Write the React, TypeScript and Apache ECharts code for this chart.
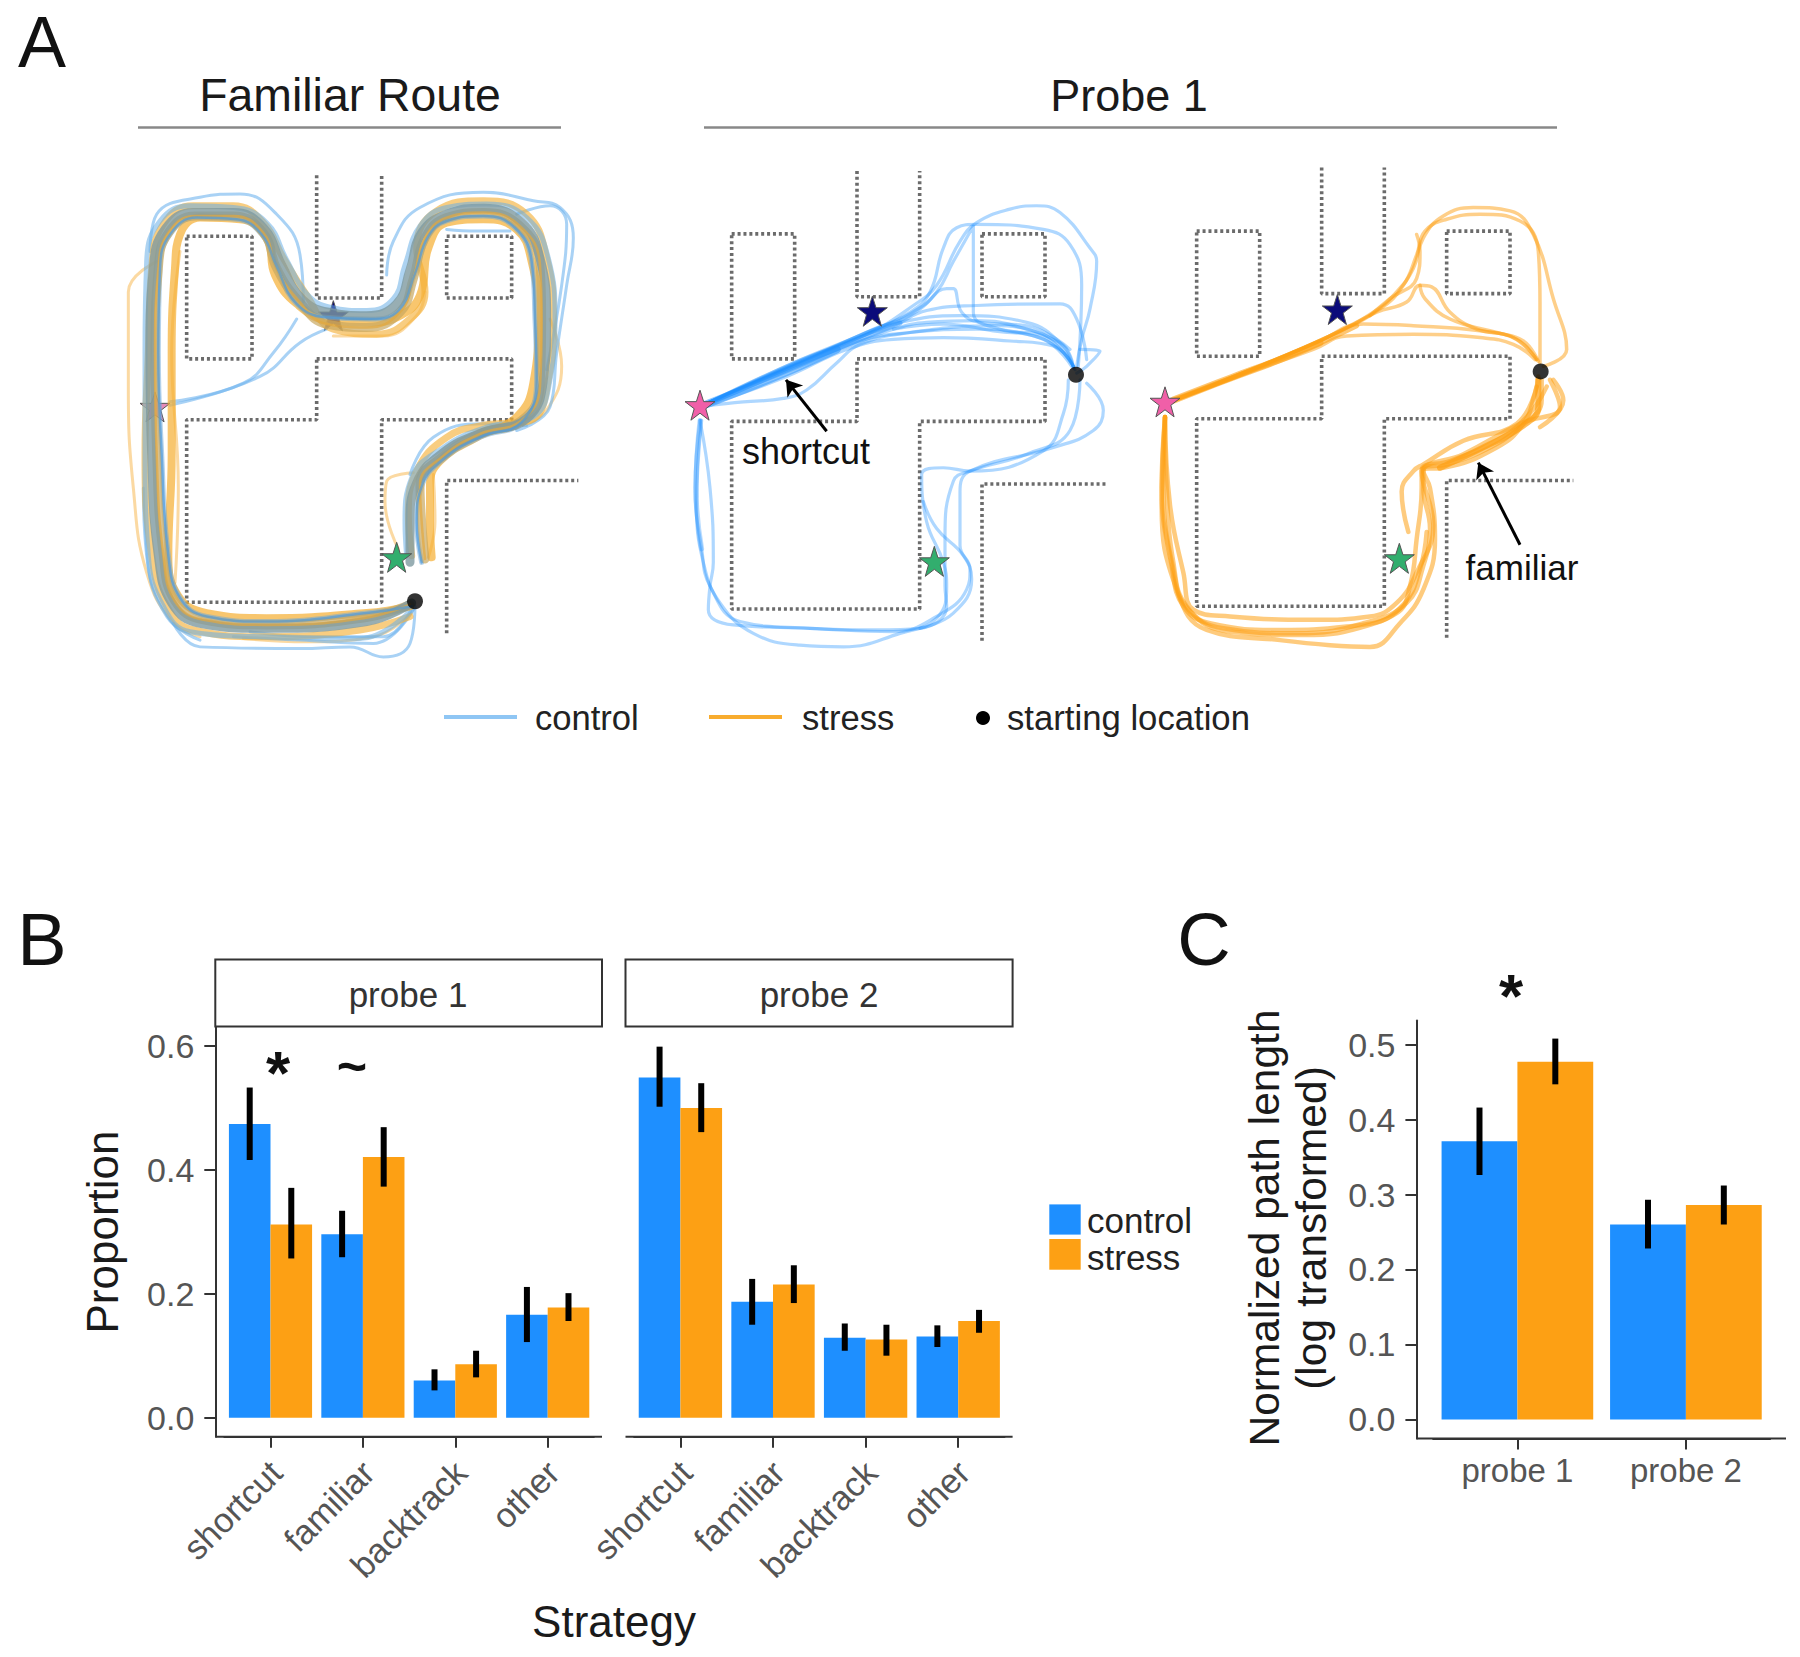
import React, { useEffect, useRef } from "react";
import * as echarts from "echarts";

type P = number[][];

// ---- bar data -------------------------------------------------------------
const strategies = ["shortcut", "familiar", "backtrack", "other"];
const probes = ["probe 1", "probe 2"];
const yTicksB = [0, 0.2, 0.4, 0.6];
const yTicksC = [0, 0.1, 0.2, 0.3, 0.4, 0.5];

const p1Control = [0.474, 0.296, 0.06, 0.166];
const p1Stress = [0.312, 0.421, 0.086, 0.178];
const p1ControlErr = [[0.416, 0.533], [0.259, 0.334], [0.044, 0.078], [0.122, 0.211]];
const p1StressErr = [[0.257, 0.371], [0.373, 0.469], [0.065, 0.108], [0.156, 0.201]];

const p2Control = [0.549, 0.187, 0.129, 0.131];
const p2Stress = [0.5, 0.215, 0.126, 0.156];
const p2ControlErr = [[0.502, 0.599], [0.15, 0.224], [0.108, 0.152], [0.114, 0.149]];
const p2StressErr = [[0.461, 0.54], [0.185, 0.246], [0.1, 0.15], [0.137, 0.174]];

const lenControl = [0.371, 0.26];
const lenStress = [0.477, 0.286];
const lenControlErr = [[0.326, 0.416], [0.228, 0.293]];
const lenStressErr = [[0.447, 0.508], [0.26, 0.312]];

// ---- maze geometry (map units of each panel) ------------------------------
const maze1Cols = [260, 456, 650, 845, 1040, 1235, 1435];
const maze1Rows = [75, 255, 438, 618, 798, 978, 1338, 1430];
const maze2Cols = [215, 404, 591, 779, 966, 1155, 1345];
const maze2Rows = [62, 248, 434, 618, 803, 988, 1358, 1452];
const maze3Cols = [200, 389, 575, 763, 950, 1140, 1330];
const maze3Rows = [52, 240, 425, 610, 795, 978, 1350, 1443];

// ---- landmarks ------------------------------------------------------------
const maze1Stars = { navy: [700, 490], pink: [165, 760], green: [890, 1205], start: [945, 1335] };
const maze2Stars = { navy: [637, 477], pink: [120, 755], green: [823, 1217], start: [1248, 665] };
const maze3Stars = { navy: [622, 472], pink: [105, 745], green: [808, 1208], start: [1232, 655] };

// ---- trajectories, familiar route ------------------------------------------
const fStressOuter: P = [[930,1380],[780,1420],[500,1440],[280,1420],[200,1350],[155,1200],[135,900],[145,600],[155,350],[190,220],[280,165],[400,165],[490,215],[550,320],[620,430],[700,530],[830,545],[930,500],[975,420],[950,290],[1010,180],[1150,150],[1280,190],[1340,320],[1360,500],[1345,680],[1290,800],[1150,815],[1040,850],[950,950],[925,1080],[935,1200]];
const fStressInner: P = [[930,1350],[800,1370],[500,1385],[320,1370],[235,1320],[205,1200],[215,900],[215,600],[225,350],[240,250],[300,200],[420,205],[500,260],[525,370],[590,455],[690,505],[810,510],[900,490],[960,430],[985,290],[1040,215],[1150,205],[1250,235],[1295,330],[1315,500],[1300,690],[1250,790],[1130,850],[1020,920],[990,990],[990,1100],[995,1205]];
const fStressMid: P = [[930,1345],[790,1385],[500,1405],[310,1390],[225,1335],[190,1200],[170,900],[165,600],[175,350],[205,245],[285,195],[400,195],[490,245],[530,350],[595,445],[680,515],[800,525],[900,480],[940,380],[975,260],[1040,200],[1150,185],[1260,225],[1320,340],[1325,500],[1320,700],[1265,800],[1140,840],[1030,905],[960,990],[965,1100],[975,1210]];
const fControlMid: P = [[935,1340],[800,1395],[500,1415],[300,1400],[215,1340],[175,1200],[155,900],[150,600],[160,350],[195,235],[280,185],[400,185],[490,230],[545,340],[605,440],[685,480],[800,490],[890,455],[930,355],[965,245],[1040,190],[1150,172],[1265,215],[1320,320],[1340,500],[1330,680],[1280,795],[1150,835],[1030,895],[950,985],[930,1100],[930,1220]];
const fControlOuter: P = [[935,1360],[780,1445],[480,1440],[270,1425],[190,1350],[145,1200],[135,900],[135,600],[140,330],[180,210],[270,165],[400,170],[500,215],[560,325],[620,425],[690,465],[800,475],[880,440],[915,340],[960,225],[1040,170],[1160,160],[1280,200],[1345,320],[1365,500],[1350,680],[1300,790],[1160,820],[1030,880],[935,970],[915,1100],[920,1200]];
const fControlInner: P = [[935,1350],[800,1370],[500,1395],[320,1380],[240,1325],[205,1200],[185,900],[175,600],[180,350],[210,250],[290,200],[410,205],[485,250],[530,345],[590,455],[680,495],[810,500],[895,475],[945,365],[985,255],[1040,210],[1150,195],[1245,230],[1295,330],[1305,500],[1310,680],[1265,805],[1140,850],[1030,915],[965,995],[950,1100],[965,1220]];

const fControlThin: P[] = [
  [[210,745],[430,690],[520,600],[590,500]],
  [[210,755],[480,670],[600,570],[680,530]],
  [[860,370],[880,270],[960,170],[1150,125],[1300,150],[1380,170],[1420,260],[1400,400],[1370,600],[1350,760],[1250,830]],
  [[150,300],[170,190],[300,140],[420,130],[530,190],[600,310],[610,450]],
  [[220,1400],[300,1470],[600,1475],[750,1470],[850,1500],[930,1460],[945,1350]],
  [[1250,190],[1350,165],[1400,220],[1385,400],[1340,650]],
  [[1040,235],[1130,240],[1230,240]],
  [[930,960],[1000,850],[1150,810],[1280,815]],
  [[130,1000],[140,1200],[200,1380],[300,1450]],
  [[940,1360],[820,1460],[600,1450],[400,1440]],
  [[940,1345],[850,1440],[650,1440],[450,1425]],
];
const fStressThin: P[] = [
  [[170,330],[85,420],[85,700],[100,1000],[140,1250],[220,1400],[300,1440]],
  [[940,955],[860,980],[855,1040],[895,1180]],
  [[240,300],[215,600],[235,1000],[225,1280]],
  [[1000,960],[1005,1100],[985,1205]],
  [[700,550],[850,550],[950,490],[975,420]],
  [[1350,500],[1385,640],[1340,770],[1270,815]],
  [[935,1370],[820,1440],[620,1455],[430,1445]],
];

// ---- trajectories, probe 1 control ------------------------------------------
const p1cShortcut: P[] = [
  [[140,750],[400,640],[590,570],[700,530],[800,510],[950,505],[1100,530],[1190,570],[1240,640]],
  [[140,752],[420,640],[600,565],[750,540],[950,530],[1100,545],[1200,590],[1245,650]],
  [[140,755],[380,670],[560,590],[700,560],[850,555],[1050,565],[1180,580],[1240,640]],
  [[140,750],[420,625],[620,540],[720,500],[790,460],[860,410],[880,410],[905,480],[960,510],[1100,520],[1230,590]],
  [[140,750],[400,630],[620,540],[750,480],[810,420],[850,290],[890,230],[950,220],[1150,235],[1230,280],[1265,400],[1255,640]],
  [[140,750],[400,630],[620,545],[760,460],[830,400],[900,270],[950,215],[1050,175],[1130,165],[1200,185],[1290,290],[1310,330],[1290,470],[1265,560],[1250,640]],
  [[140,750],[420,630],[640,530],[750,490],[830,420],[880,330],[940,225],[940,480],[1020,530],[1150,550],[1240,640]],
  [[140,750],[420,625],[620,545],[700,520],[800,475],[950,460],[1200,455],[1250,500],[1280,620]],
  [[140,756],[250,745],[370,735],[440,710],[530,630],[600,575],[750,540],[1000,520],[1200,570],[1240,640]],
  [[1260,590],[1320,595],[1280,640],[1250,660]],
  [[140,750],[410,632],[610,550],[720,510],[900,490],[1100,510],[1210,580],[1240,645]],
  [[700,530],[850,515],[1000,535],[1150,560],[1235,640]],
];
const p1cShortcutCore: P = [[140,752],[300,690],[420,640],[530,590]];
const p1cShortcutMid: P = [[140,752],[400,642],[600,560],[720,512]];
const p1cFamiliar: P[] = [
  [[120,800],[105,1000],[125,1180],[150,1290],[240,1395],[450,1415],[650,1420],[780,1415],[860,1350],[855,1290],[855,1150],[880,980],[930,950],[1100,900],[1230,830],[1260,680]],
  [[120,800],[150,1000],[160,1220],[150,1290],[145,1360],[220,1405],[450,1415],[700,1425],[830,1380],[920,1300],[930,1240],[900,1170],[900,1010],[930,950],[1180,880],[1300,830],[1330,770],[1280,690]],
  [[125,800],[110,1050],[130,1220],[180,1340],[280,1430],[420,1465],[550,1470],[720,1430],[830,1385],[860,1290],[850,1220],[800,1100],[785,960],[850,940],[930,950],[1150,890],[1210,780],[1225,680]],
  [[790,1040],[830,1120],[910,1200],[935,1270],[880,1370],[780,1415]],
];
const p1cFamiliarCore: P = [[120,800],[108,1000],[125,1180]];

// ---- trajectories, probe 1 stress -------------------------------------------
const p1sShortcut: P[] = [
  [[130,740],[350,660],[550,590],[650,550],[850,545],[1050,555],[1150,575],[1215,620]],
  [[130,740],[350,655],[560,570],[700,515],[850,520],[1050,535],[1160,560],[1220,620]],
  [[130,742],[350,658],[600,550],[730,480],[800,420],[850,350],[880,260],[940,195],[1030,170],[1140,180],[1210,250],[1270,440],[1310,590],[1240,640]],
  [[130,742],[350,655],[600,550],[750,470],[820,400],[860,310],[885,240],[950,205],[1050,190],[1170,210],[1225,300],[1230,450],[1230,630]],
  [[130,740],[350,655],[600,550],[740,480],[830,450],[870,400],[905,405],[960,480],[1040,530],[1150,555],[1220,620]],
  [[720,490],[780,440],[860,380],[870,300],[860,250]],
  [[870,400],[885,440],[960,500],[1100,540],[1180,565],[1225,625]],
];
const p1sShortcutCore: P = [[130,740],[300,675],[450,620],[570,570]];
const p1sShortcutMid: P = [[130,740],[350,657],[560,575],[680,520]];
const p1sFamiliar: P[] = [
  [[105,790],[95,1000],[125,1230],[160,1350],[240,1400],[450,1420],[650,1410],[800,1370],[840,1290],[860,1150],[875,1000],[875,945],[940,940],[1100,880],[1180,810],[1215,720],[1225,670]],
  [[105,790],[110,1000],[130,1220],[170,1350],[280,1415],[500,1430],[700,1400],[830,1340],[880,1230],[900,1120],[880,1000],[880,945],[950,930],[1060,890],[1170,820],[1235,740],[1235,680]],
  [[105,790],[120,1050],[160,1250],[190,1360],[300,1380],[550,1390],[720,1380],[800,1340],[860,1250],[910,1110],[875,950],[960,920],[1090,865],[1190,790],[1250,700]],
  [[105,790],[95,1050],[140,1300],[230,1420],[450,1450],[600,1465],[720,1470],[810,1400],[880,1300],[915,1150],[900,1000],[880,950],[1000,900],[1170,810],[1290,760],[1260,680]],
  [[835,1130],[815,1010],[850,950],[880,930],[1000,860],[1160,810],[1220,700]],
  [[1270,680],[1300,740],[1230,820]],
  [[105,790],[100,1000],[130,1240],[175,1360],[300,1425],[520,1435],[720,1405],[820,1345],[870,1240],[890,1130]],
];
const p1sFamiliarCore: P = [[1225,680],[1225,760],[1180,815],[1060,880],[930,940]];
const shortcutArrow = [[500, 832], [378, 680]];
const familiarArrow = [[1170, 1168], [1045, 925]];

// ---- colours & style --------------------------------------------------------
const BLUE = "#1E8FFF";
const ORANGE = "#FDA014";
const FONT = "'Liberation Sans', Arial, sans-serif";
const STAR = "path://M50 0 L61.8 35.1 L98.5 35.1 L68.8 56.8 L79.4 92 L50 70.5 L20.6 92 L31.2 56.8 L1.5 35.1 L38.2 35.1 Z";

const walls = (c: number[], r: number[]): P[] => [
  [[c[0], r[1]], [c[1], r[1]], [c[1], r[3]], [c[0], r[3]], [c[0], r[1]]],
  [[c[2], r[0]], [c[2], r[2]], [c[3], r[2]], [c[3], r[0]]],
  [[c[4], r[1]], [c[5], r[1]], [c[5], r[2]], [c[4], r[2]], [c[4], r[1]]],
  [[c[2], r[3]], [c[5], r[3]], [c[5], r[4]], [c[3], r[4]], [c[3], r[6]], [c[0], r[6]], [c[0], r[4]], [c[2], r[4]], [c[2], r[3]]],
  [[c[4], r[7]], [c[4], r[5]], [c[6], r[5]]],
];

const pathSeries = (grid: number, paths: P[], name: string, color: string, width: number, opacity: number, z: number) =>
  paths.map((d) => ({
    type: "line", name, xAxisIndex: grid, yAxisIndex: grid, data: d, showSymbol: false, smooth: 0.45, silent: true,
    clip: false, z, lineStyle: { color, width, opacity, cap: "round", join: "round" },
  }));

const wallSeries = (grid: number, c: number[], r: number[]) =>
  walls(c, r).map((d) => ({
    type: "line", xAxisIndex: grid, yAxisIndex: grid, data: d, showSymbol: false, silent: true, clip: false, z: 1,
    lineStyle: { color: "#6b6b6b", width: 3.6, type: [3, 2.9] },
  }));

const starSeries = (grid: number, pos: number[], color: string, z: number, opacity = 1) => ({
  type: "scatter", xAxisIndex: grid, yAxisIndex: grid, data: [pos], symbol: STAR, symbolSize: 30, silent: true, z,
  itemStyle: { color, borderColor: "#555", borderWidth: 1, opacity },
});
const dotSeries = (grid: number, pos: number[]) => ({
  type: "scatter", xAxisIndex: grid, yAxisIndex: grid, data: [pos], symbol: "circle", symbolSize: 16, silent: true, z: 12,
  itemStyle: { color: "#000" },
});
const arrowSeries = (grid: number, seg: number[][]) => ({
  type: "line", xAxisIndex: grid, yAxisIndex: grid, data: [], silent: true, z: 13,
  markLine: {
    silent: true, animation: false, symbol: ["none", "arrow"], symbolSize: 15, label: { show: false },
    lineStyle: { color: "#000", width: 3, type: "solid", opacity: 1 },
    data: [[{ coord: seg[0] }, { coord: seg[1] }]],
  },
});

const barSeries = (x: number, name: string, values: number[], color: string) => ({
  type: "bar", name, xAxisIndex: x, yAxisIndex: x, data: values, barWidth: "45%", barGap: "0%", silent: true, z: 3,
  itemStyle: { color },
});
const errSeries = (x: number, errs: number[][], side: number) => ({
  type: "custom", xAxisIndex: x, yAxisIndex: x, silent: true, z: 6,
  data: errs.map((e, i) => [i, e[0], e[1]]),
  encode: { x: 0, y: [1, 2] },
  renderItem: (_: any, api: any) => {
    const lo = api.coord([api.value(0), api.value(1)]);
    const hi = api.coord([api.value(0), api.value(2)]);
    const off = (api.size([1, 0])[0] * 0.225) * side;
    return { type: "line", shape: { x1: lo[0] + off, y1: lo[1], x2: hi[0] + off, y2: hi[1] }, style: { stroke: "#000", lineWidth: 6 } };
  },
});

// ---- layout -------------------------------------------------------------------
const mazeAxes = (range: number) => ({
  x: { type: "value", show: false, min: 0, max: range },
  y: { type: "value", show: false, min: 0, max: 1568, inverse: true },
});
const axisText = { color: "#555", fontSize: 33, fontFamily: FONT };
const catAxis = (grid: number, data: string[], rotate: number, margin: number) => ({
  type: "category", gridIndex: grid, data, position: "bottom",
  axisLine: { show: true, onZero: false, lineStyle: { color: "#333", width: 2 } },
  axisTick: { show: true, alignWithLabel: true, length: 11, lineStyle: { color: "#333", width: 2 } },
  axisLabel: {
    ...axisText, fontSize: rotate ? 34.5 : 33, rotate, margin, interval: 0, hideOverlap: false,
    ...(rotate ? { verticalAlign: "top", formatter: (v: string) => v + "\u00a0" } : {}),
  },
});
const valAxis = (grid: number, min: number, max: number, ticks: number[], offset: number, show: boolean) => ({
  type: "value", gridIndex: grid, min, max, show, offset, splitLine: { show: false },
  axisLine: { show: true, onZero: false, lineStyle: { color: "#333", width: 2 } },
  axisTick: { show: true, length: 11, customValues: ticks, lineStyle: { color: "#333", width: 2 } },
  axisLabel: { ...axisText, fontSize: 34, margin: 21, customValues: ticks, formatter: (v: number) => v.toFixed(1) },
});

const txt = (text: string, x: number, y: number, fontSize: number, fill = "#1a1a1a", textAlign = "center", rotation = 0, fontWeight = "normal") => ({
  type: "text", x, y, rotation, z: 20, silent: true,
  style: { text, fontSize, fontFamily: FONT, fill, textAlign, textVerticalAlign: "middle", fontWeight },
});
const ln = (x1: number, y1: number, x2: number, y2: number, stroke: string, lineWidth: number) => ({
  type: "line", silent: true, z: 20, shape: { x1, y1, x2, y2 }, style: { stroke, lineWidth },
});
const box = (x: number, y: number, width: number, height: number, fill: string, stroke?: string) => ({
  type: "rect", silent: true, z: 15, shape: { x, y, width, height }, style: { fill, stroke, lineWidth: stroke ? 2 : 0 },
});

const graphics = [
  txt("A", 42, 42, 72, "#111"),
  txt("B", 42, 939, 74, "#111"),
  txt("C", 1204, 939, 74, "#111"),
  txt("Familiar Route", 350, 95, 46.4),
  txt("Probe 1", 1129, 95, 45),
  ln(138, 127.5, 561, 127.5, "#888", 2.5),
  ln(704, 127.5, 1557, 127.5, "#888", 2.5),
  txt("shortcut", 806, 451, 36, "#111"),
  txt("familiar", 1522, 567, 35, "#111"),
  ln(444, 717, 517, 717, "#8FC6F4", 4),
  txt("control", 535, 718, 34.6, "#222", "left"),
  ln(709, 717, 782, 717, "#F8AC2E", 4),
  txt("stress", 802, 718, 34.6, "#222", "left"),
  { type: "circle", silent: true, z: 20, shape: { cx: 983, cy: 718, r: 7 }, style: { fill: "#000" } },
  txt("starting location", 1007, 718, 34.7, "#222", "left"),
  box(215.3, 959.6, 386.7, 66.8, "#fff", "#333"),
  box(625.5, 959.6, 387.1, 66.8, "#fff", "#333"),
  txt("probe 1", 408, 994, 35, "#333"),
  txt("probe 2", 819, 994, 35, "#333"),
  ln(215.3, 1436.7, 602, 1436.7, "#333", 2),
  ln(625.5, 1436.7, 1012.6, 1436.7, "#333", 2),
  ln(1416.4, 1438.6, 1786, 1438.6, "#333", 2),
  txt("*", 278, 1072, 62, "#111", "center", 0, "bold"),
  txt("~", 352, 1066, 52, "#111", "center", 0, "bold"),
  txt("*", 1511, 995, 62, "#111", "center", 0, "bold"),
  txt("Proportion", 102, 1232, 44, "#1a1a1a", "center", Math.PI / 2),
  txt("Strategy", 614, 1621, 44, "#1a1a1a"),
  txt("Normalized path length", 1264, 1228, 42.5, "#1a1a1a", "center", Math.PI / 2),
  txt("(log transformed)", 1311, 1228, 42.5, "#1a1a1a", "center", Math.PI / 2),
  box(1049.3, 1204.4, 31.4, 30.2, BLUE),
  box(1049.3, 1239, 31.4, 30.7, ORANGE),
  txt("control", 1087, 1220, 35, "#222", "left"),
  txt("stress", 1087, 1257, 35, "#222", "left"),
];

const m1 = mazeAxes(1560);
const m2 = mazeAxes(1500);
const m3 = mazeAxes(1500);

const option = {
  animation: false,
  backgroundColor: "#fff",
  textStyle: { fontFamily: FONT },
  grid: [
    { left: 100, top: 150, width: 520, height: 530 },
    { left: 660, top: 150, width: 500, height: 530 },
    { left: 1130, top: 150, width: 500, height: 530 },
    { left: 224.3, top: 1026.9, width: 369.6, height: 409.8 },
    { left: 634.1, top: 1026.9, width: 370.4, height: 409.8 },
    { left: 1433.15, top: 1020.6, width: 337, height: 418 },
  ],
  xAxis: [
    { ...m1.x, gridIndex: 0 }, { ...m2.x, gridIndex: 1 }, { ...m3.x, gridIndex: 2 },
    catAxis(3, strategies, 45, 11), catAxis(4, strategies, 45, 11), catAxis(5, probes, 0, 15),
  ],
  yAxis: [
    { ...m1.y, gridIndex: 0 }, { ...m2.y, gridIndex: 1 }, { ...m3.y, gridIndex: 2 },
    valAxis(3, -0.0308, 0.6309, yTicksB, 9, true),
    valAxis(4, -0.0308, 0.6309, yTicksB, 0, false),
    valAxis(5, -0.0256, 0.532, yTicksC, 16.75, true),
  ],
  graphic: graphics,
  series: [
    ...wallSeries(0, maze1Cols, maze1Rows),
    ...wallSeries(1, maze2Cols, maze2Rows),
    ...wallSeries(2, maze3Cols, maze3Rows),
    // familiar route
    starSeries(0, maze1Stars.navy, "#0B0B7A", 2),
    starSeries(0, maze1Stars.pink, "#E58AB8", 2),
    ...pathSeries(0, fStressThin, "stress", "#F7B346", 3, 0.5, 3),
    ...pathSeries(0, fControlThin, "control", "#6FB4EE", 3, 0.6, 3),
    ...pathSeries(0, [fStressOuter], "stress", "#F5B23E", 7, 0.65, 4),
    ...pathSeries(0, [fControlOuter], "control", "#6AAEE6", 5, 0.55, 4),
    ...pathSeries(0, [fStressInner], "stress", "#F5AE30", 8, 0.7, 4),
    ...pathSeries(0, [fControlInner], "control", "#6AA6D8", 5, 0.5, 4),
    ...pathSeries(0, [fStressMid], "stress", "#C9A860", 9, 0.7, 4),
    ...pathSeries(0, [fControlMid], "control", "#7E9AA0", 9, 0.8, 4),
    ...pathSeries(0, [fStressMid], "stress", "#E2A83E", 2.5, 0.7, 5),
    ...pathSeries(0, [fControlInner], "control", "#4E9ADC", 2.5, 0.7, 5),
    starSeries(0, maze1Stars.green, "#32AE6E", 10),
    dotSeries(0, maze1Stars.start),
    // probe 1, control
    ...pathSeries(1, p1cShortcut, "control", BLUE, 3.2, 0.36, 3),
    ...pathSeries(1, p1cFamiliar, "control", BLUE, 3.2, 0.36, 3),
    ...pathSeries(1, [p1cShortcutMid], "control", BLUE, 5, 0.45, 3),
    ...pathSeries(1, [p1cShortcutCore], "control", BLUE, 8, 0.5, 3),
    ...pathSeries(1, [p1cFamiliarCore], "control", BLUE, 5, 0.3, 3),
    starSeries(1, maze2Stars.navy, "#0B0B7A", 10),
    starSeries(1, maze2Stars.pink, "#F05FA8", 10),
    starSeries(1, maze2Stars.green, "#32AE6E", 10),
    dotSeries(1, maze2Stars.start),
    arrowSeries(1, shortcutArrow),
    // probe 1, stress
    ...pathSeries(2, p1sShortcut, "stress", ORANGE, 3.5, 0.5, 3),
    ...pathSeries(2, [p1sShortcutMid], "stress", ORANGE, 5, 0.6, 3),
    ...pathSeries(2, [p1sShortcutCore], "stress", ORANGE, 7, 0.6, 3),
    ...pathSeries(2, p1sFamiliar, "stress", ORANGE, 4.5, 0.55, 3),
    ...pathSeries(2, [p1sFamiliarCore], "stress", ORANGE, 6, 0.7, 3),
    starSeries(2, maze3Stars.navy, "#0B0B7A", 10),
    starSeries(2, maze3Stars.pink, "#F05FA8", 10),
    starSeries(2, maze3Stars.green, "#32AE6E", 10),
    dotSeries(2, maze3Stars.start),
    arrowSeries(2, familiarArrow),
    // bars
    barSeries(3, "control", p1Control, BLUE),
    barSeries(3, "stress", p1Stress, ORANGE),
    errSeries(3, p1ControlErr, -1),
    errSeries(3, p1StressErr, 1),
    barSeries(4, "control", p2Control, BLUE),
    barSeries(4, "stress", p2Stress, ORANGE),
    errSeries(4, p2ControlErr, -1),
    errSeries(4, p2StressErr, 1),
    barSeries(5, "control", lenControl, BLUE),
    barSeries(5, "stress", lenStress, ORANGE),
    errSeries(5, lenControlErr, -1),
    errSeries(5, lenStressErr, 1),
  ],
};

export default function App() {
  const ref = useRef<HTMLDivElement>(null);
  useEffect(() => {
    document.body.style.margin = "0";
    const chart = echarts.init(ref.current!, undefined, { renderer: "svg" });
    chart.setOption(option as any);
    return () => chart.dispose();
  }, []);
  return <div ref={ref} style={{ width: 1800, height: 1657 }} />;
}
